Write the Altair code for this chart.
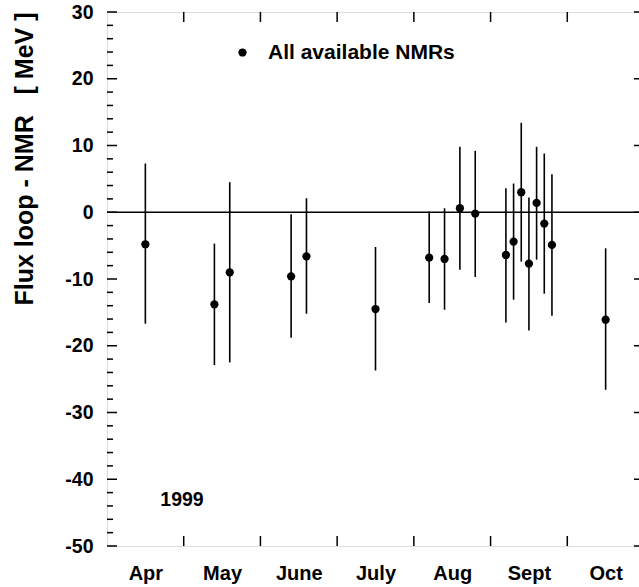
import altair as alt
import pandas as pd

# Flux loop minus NMR energy differences, 1999 (x in months since 1 April)
months = ["Apr", "May", "June", "July", "Aug", "Sept", "Oct"]
x_month = [0.5, 1.4, 1.6, 2.4, 2.6, 3.5, 4.2, 4.4, 4.6, 4.8,
           5.2, 5.3, 5.4, 5.5, 5.6, 5.7, 5.8, 6.5]
diff = [-4.8, -13.8, -9.0, -9.6, -6.6, -14.5, -6.8, -7.0, 0.6, -0.2,
        -6.4, -4.4, 3.0, -7.7, 1.4, -1.7, -4.9, -16.1]
err_hi = [7.3, -4.7, 4.5, -0.3, 2.1, -5.2, 0.1, 0.6, 9.8, 9.2,
          3.6, 4.3, 13.4, 2.2, 9.8, 8.8, 5.7, -5.4]
err_lo = [-16.7, -22.9, -22.5, -18.8, -15.2, -23.7, -13.6, -14.6, -8.6, -9.7,
          -16.5, -13.1, -7.4, -17.7, -7.1, -12.2, -15.5, -26.6]

y_major = list(range(-50, 31, 10))
y_minor = [v for v in range(-50, 31, 2) if v % 10 != 0]
month_edges = list(range(1, len(months)))
month_centers = [i + 0.5 for i in range(len(months))]

FONT = "Liberation Sans"
W, H = 537, 534
DOT = 68

df = pd.DataFrame({"x": x_month, "diff": diff, "hi": err_hi, "lo": err_lo,
                   "series": ["All available NMRs"] * len(x_month)})

month_expr = "[" + ",".join(f"'{m}'" for m in months) + "][floor(datum.value)]"
# plain hyphen for negative numbers
value_expr = "datum.value < 0 ? '-' + abs(datum.value) : '' + datum.value"

xscale = alt.Scale(domain=[0, len(months)], nice=False, zero=False)
yscale = alt.Scale(domain=[-50, 30], nice=False, zero=False)

xaxis = alt.Axis(values=month_centers, labelExpr=month_expr, tickSize=0,
                 domain=False, grid=False, labelPadding=17, labelFont=FONT,
                 labelFontSize=20, labelFontWeight="bold", labelColor="black",
                 title=None)
yaxis = alt.Axis(values=y_major, labelExpr=value_expr, tickSize=0, domain=False,
                 grid=False, labelPadding=14, labelFont=FONT, labelFontSize=19.5,
                 labelFontWeight="bold", labelColor="black",
                 title="Flux loop - NMR\u00a0\u00a0\u00a0[\u00a0MeV\u00a0]",
                 titleFont=FONT, titleFontSize=25, titleFontWeight="bold",
                 titleColor="black", titleAnchor="end", titleAlign="right",
                 titleAngle=-90, titleBaseline="alphabetic", titleX=-75, titleY=0)

base = alt.Chart(df)

bars = base.mark_rule(color="black", strokeWidth=1.6).encode(
    x=alt.X("x:Q", scale=xscale, axis=xaxis),
    y=alt.Y("lo:Q", scale=yscale, axis=yaxis),
    y2="hi:Q",
)

points = base.mark_point(filled=True, size=DOT, opacity=1, strokeWidth=0).encode(
    x=alt.X("x:Q", scale=xscale),
    y=alt.Y("diff:Q", scale=yscale),
    color=alt.Color("series:N", scale=alt.Scale(range=["black"]),
                    legend=alt.Legend(title=None, orient="none", legendX=125,
                                      legendY=30, padding=0, symbolType="circle",
                                      symbolSize=DOT, symbolStrokeWidth=0,
                                      symbolOpacity=1, labelLimit=0,
                                      labelFont=FONT, labelFontSize=21,
                                      labelFontWeight="bold", labelColor="black",
                                      labelOffset=15)),
)

zero = alt.Chart(pd.DataFrame({"y": [0]})).mark_rule(color="black", strokeWidth=1.4).encode(
    y=alt.Y("y:Q", scale=yscale)
)

tick_style = dict(color="black", strokeWidth=1.5)

left_major = alt.Chart(pd.DataFrame({"v": y_major})).mark_rule(**tick_style).encode(
    y=alt.Y("v:Q", scale=yscale), x=alt.value(0), x2=alt.value(10))
left_minor = alt.Chart(pd.DataFrame({"v": y_minor})).mark_rule(**tick_style).encode(
    y=alt.Y("v:Q", scale=yscale), x=alt.value(0), x2=alt.value(6))
right_major = alt.Chart(pd.DataFrame({"v": y_major})).mark_rule(**tick_style).encode(
    y=alt.Y("v:Q", scale=yscale), x=alt.value(W - 10), x2=alt.value(W))
bottom_ticks = alt.Chart(pd.DataFrame({"m": month_edges})).mark_rule(**tick_style).encode(
    x=alt.X("m:Q", scale=xscale), y=alt.value(H), y2=alt.value(H - 10))
top_ticks = alt.Chart(pd.DataFrame({"m": month_edges})).mark_rule(**tick_style).encode(
    x=alt.X("m:Q", scale=xscale), y=alt.value(0), y2=alt.value(10))

year = alt.Chart(pd.DataFrame({"t": ["1999"]})).mark_text(
    font=FONT, fontSize=19.5, fontWeight="bold", color="black",
    align="center", baseline="middle").encode(
    text="t:N", x=alt.value(75), y=alt.value(488))

chart = alt.layer(
    zero, left_major, left_minor, right_major, bottom_ticks, top_ticks,
    bars, points, year,
).properties(
    width=W, height=H,
    autosize=alt.AutoSizeParams(type="none"),
    padding={"left": 107, "top": 12, "right": 639 - 107 - W, "bottom": 587 - 12 - H},
).configure_view(
    stroke="black", strokeWidth=2
).configure(background="white")

chart.save("out.html", embed_options={"renderer": "svg", "actions": False})
